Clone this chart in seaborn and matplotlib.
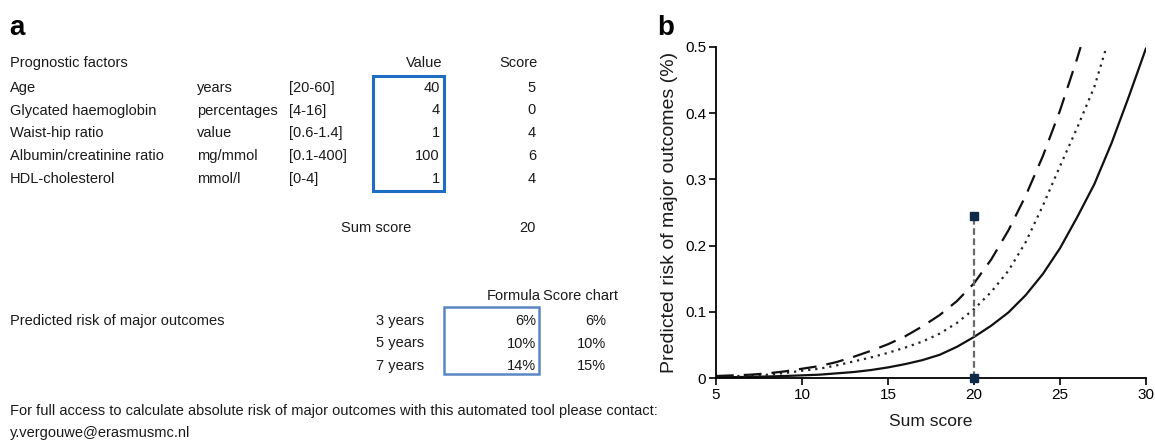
import matplotlib
matplotlib.use("Agg")
import matplotlib.pyplot as plt
import seaborn as sns
import pandas as pd
from matplotlib.patches import Rectangle

# ---------------- data ----------------
factors = ["Age", "Glycated haemoglobin", "Waist-hip ratio", "Albumin/creatinine ratio", "HDL-cholesterol"]
units = ["years", "percentages", "value", "mg/mmol", "mmol/l"]
ranges = ["[20-60]", "[4-16]", "[0.6-1.4]", "[0.1-400]", "[0-4]"]
values = ["40", "4", "1", "100", "1"]
scores = ["5", "0", "4", "6", "4"]
sum_score = "20"
horizons = ["3 years", "5 years", "7 years"]
formula_risk = ["6%", "10%", "14%"]
chart_risk = ["6%", "10%", "15%"]

x_3y = [5, 6, 7, 8, 9, 10, 11, 12, 13, 14, 15, 16, 17, 18, 19, 20, 21, 22, 23, 24, 25, 26, 27, 28, 29, 30]
risk_3y = [0.001, 0.0013, 0.0017, 0.0023, 0.003, 0.004, 0.005, 0.007, 0.009, 0.012, 0.016, 0.021, 0.027,
           0.035, 0.047, 0.062, 0.079, 0.099, 0.125, 0.157, 0.196, 0.243, 0.293, 0.355, 0.425, 0.498]
x_5y = [5, 6, 7, 8, 9, 10, 11, 12, 13, 14, 15, 16, 17, 18, 19, 20, 21, 22, 23, 24, 25, 26, 27, 27.7]
risk_5y = [0.002, 0.0027, 0.0036, 0.005, 0.0075, 0.011, 0.014, 0.019, 0.025, 0.031, 0.038, 0.046, 0.055,
           0.067, 0.083, 0.104, 0.130, 0.162, 0.205, 0.260, 0.320, 0.378, 0.440, 0.500]
x_7y = [5, 6, 7, 8, 9, 10, 11, 12, 13, 14, 15, 16, 17, 18, 19, 20, 21, 22, 23, 24, 25, 26, 26.2]
risk_7y = [0.003, 0.004, 0.005, 0.007, 0.010, 0.014, 0.018, 0.024, 0.032, 0.041, 0.051, 0.063, 0.078,
           0.095, 0.116, 0.143, 0.179, 0.223, 0.275, 0.335, 0.404, 0.483, 0.500]

marker_x = [20, 20]
marker_y = [0.0, 0.245]

x_ticks = [5, 10, 15, 20, 25, 30]
y_ticks = [0, 0.1, 0.2, 0.3, 0.4, 0.5]
y_tick_labels = ["0", "0.1", "0.2", "0.3", "0.4", "0.5"]

# ---------------- style ----------------
sns.set_style("ticks")
plt.rcParams["font.family"] = ["Liberation Sans", "DejaVu Sans"]
TXT = "#1a1a1a"
FS = 10.5

fig = plt.figure(figsize=(11.55, 4.41), dpi=100)

# overlay axes in pixel coordinates for the table panel
tx = fig.add_axes([0, 0, 1, 1])
tx.set_xlim(0, 1155)
tx.set_ylim(441, 0)
tx.axis("off")

tx.text(9, 28, "a", fontsize=20, fontweight="bold", color="black", va="center", ha="left")
tx.text(10, 63, "Prognostic factors", fontsize=FS, color=TXT, va="center")
tx.text(442, 63, "Value", fontsize=FS, color=TXT, va="center", ha="right")
tx.text(538, 63, "Score", fontsize=FS, color=TXT, va="center", ha="right")
row_y = [88, 110.5, 133, 156, 179]
for i in range(len(factors)):
    y = row_y[i]
    tx.text(10, y, factors[i], fontsize=FS, color=TXT, va="center")
    tx.text(197, y, units[i], fontsize=FS, color=TXT, va="center")
    tx.text(289, y, ranges[i], fontsize=FS, color=TXT, va="center")
    tx.text(440, y, values[i], fontsize=FS, color=TXT, va="center", ha="right")
    tx.text(536, y, scores[i], fontsize=FS, color=TXT, va="center", ha="right")
tx.add_patch(Rectangle((373, 76), 71, 115, fill=False, edgecolor="#1d6dc4", lw=2.2))
tx.text(341, 228, "Sum score", fontsize=FS, color=TXT, va="center")
tx.text(536, 228, sum_score, fontsize=FS, color=TXT, va="center", ha="right")

tx.text(541, 296, "Formula", fontsize=FS, color=TXT, va="center", ha="right")
tx.text(543, 296, "Score chart", fontsize=FS, color=TXT, va="center", ha="left")
tx.text(10, 321, "Predicted risk of major outcomes", fontsize=FS, color=TXT, va="center")
risk_y = [321, 343.5, 366]
for i in range(len(horizons)):
    y = risk_y[i]
    tx.text(376, y, horizons[i], fontsize=FS, color=TXT, va="center")
    tx.text(536, y, formula_risk[i], fontsize=FS, color=TXT, va="center", ha="right")
    tx.text(606, y, chart_risk[i], fontsize=FS, color=TXT, va="center", ha="right")
tx.add_patch(Rectangle((444, 307), 95, 67, fill=False, edgecolor="#5a86c4", lw=1.8))

tx.text(10, 411, "For full access to calculate absolute risk of major outcomes with this automated tool please contact:",
        fontsize=FS, color=TXT, va="center")
tx.text(10, 433, "y.vergouwe@erasmusmc.nl", fontsize=FS, color=TXT, va="center")

tx.text(657, 28, "b", fontsize=20, fontweight="bold", color="black", va="center", ha="left")

# ---------------- chart panel ----------------
ax = fig.add_axes([716 / 1155, (441 - 378) / 441, 430 / 1155, 331 / 441])

df = pd.concat([
    pd.DataFrame({"score": x_3y, "risk": risk_3y, "horizon": "3 years"}),
    pd.DataFrame({"score": x_5y, "risk": risk_5y, "horizon": "5 years"}),
    pd.DataFrame({"score": x_7y, "risk": risk_7y, "horizon": "7 years"}),
], ignore_index=True)

sns.lineplot(data=df, x="score", y="risk", hue="horizon", style="horizon",
             palette={"3 years": "#111111", "5 years": "#222222", "7 years": "#111111"},
             dashes={"3 years": "", "5 years": (1, 2.2), "7 years": (8, 4.5)},
             linewidth=1.6, legend=False, ax=ax, sort=True, estimator=None)
for ln in ax.lines:
    ln.set_clip_on(True)
    ln.set_solid_joinstyle("round")

ax.plot(marker_x, marker_y, color="#6a6a6a", lw=1.6, ls=(0, (3, 1.6)), zorder=3, clip_on=False)
ax.plot(marker_x, marker_y, ls="none", marker="s", ms=5.5, color="#0d2a48", zorder=4, clip_on=False)

ax.set_xlim(5, 30)
ax.set_ylim(0, 0.5)
ax.set_xticks(x_ticks)
ax.set_yticks(y_ticks)
ax.set_yticklabels(y_tick_labels)
ax.tick_params(axis="both", direction="out", length=5, width=1.2, labelsize=11, colors="black", pad=2)
for s in ["left", "bottom"]:
    ax.spines[s].set_linewidth(1.3)
    ax.spines[s].set_color("black")
ax.spines["top"].set_visible(False)
ax.spines["right"].set_visible(False)
ax.set_xlabel("Sum score", fontsize=12.5, color=TXT, labelpad=9)
ax.set_ylabel("Predicted risk of major outcomes (%)", fontsize=14, color=TXT, labelpad=5)
ax.set_facecolor("white")

fig.savefig("out.png", dpi=100, facecolor="white")
